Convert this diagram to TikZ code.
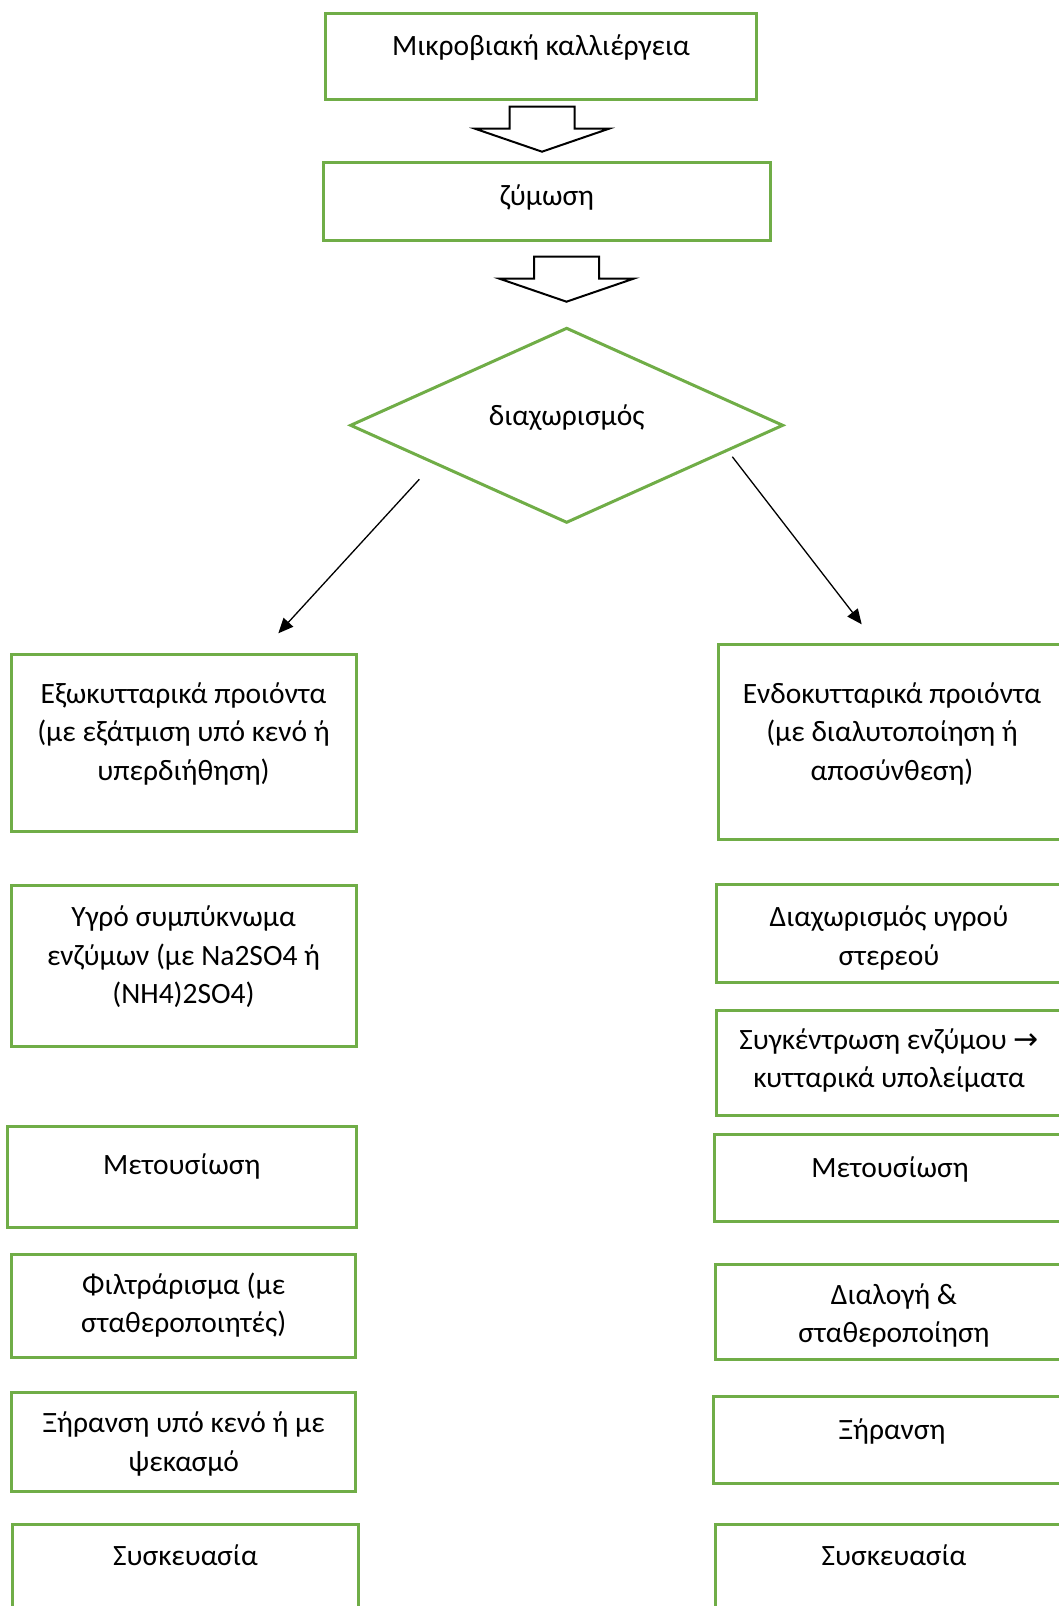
\documentclass[tikz,border=0pt]{standalone}
\usepackage{fontspec}
\setmainfont{Carlito}
\newfontfamily\arrowfont{DejaVu Sans}
\usetikzlibrary{shapes.geometric}
\usetikzlibrary{arrows.meta}
\usetikzlibrary{calc}
\definecolor{boxgreen}{HTML}{70AD47}
\tikzset{
	boxstyle/.style={rectangle, draw=boxgreen, line width=1.5pt, fill=white, anchor=north,
		align=center, inner sep=0pt, outer sep=0pt, font=\fontsize{14.75}{19.3}\selectfont},
	diamondstyle/.style={diamond, draw=boxgreen, line width=1.5pt, inner sep=0pt, outer sep=0pt,
		text height=5pt, text depth=5pt, font=\fontsize{14.75}{19.3}\selectfont},
	linkstyle/.style={line width=0.65pt, -{Triangle[length=7.5pt, width=6.5pt]}},
	blockarrow/.pic={
		\draw[line width=1pt, fill=white] (-32.5,0) -- (32.5,0) -- (32.5,22) -- (67,22)
			-- (0,45) -- (-67,22) -- (-32.5,22) -- cycle;
	}
}

\begin{document}
\begin{tikzpicture}[x=0.5pt, y=-0.5pt]
\useasboundingbox (0,0) rectangle (1059,1606);
\clip (0,0) rectangle (1059,1606);

% top of the chart
\node[boxstyle, minimum width=215.5pt, text height=20.85pt, text depth=22.15pt] (culture) at (541,13.3) {Μικροβιακή καλλιέργεια};
\node[boxstyle, minimum width=223.7pt, text height=21.15pt, text depth=17.85pt] (ferment) at (547,162.7) {ζύμωση};
\node[diamondstyle, minimum width=216pt, minimum height=97pt] (sep) at (566.7,425.3) {διαχωρισμός};

\pic at ($(culture.south)+(1,7.4)$) {blockarrow};
\pic at ($(ferment.south)+(19.5,16)$) {blockarrow};

% left column
\node[boxstyle, minimum width=172.5pt, text height=63.1pt, text depth=25.4pt] (ext) at (183.5,654) {Εξωκυτταρικά προιόντα\\(με εξάτμιση υπό κενό ή\\υπερδιήθηση)};
\node[boxstyle, minimum width=172.5pt, text height=59.45pt, text depth=21.4pt] (liq) at (183.5,885) {Υγρό συμπύκνωμα\\ενζύμων (με Na2SO4 ή\\(NH4)2SO4)};
\node[boxstyle, minimum width=174.8pt, text height=23.65pt, text depth=26.65pt] (denl) at (181.8,1126.7) {Μετουσίωση};
\node[boxstyle, minimum width=172.25pt, text height=39.3pt, text depth=12.2pt] (filt) at (183.7,1254.3) {Φιλτράρισμα (με\\σταθεροποιητές)};
\node[boxstyle, minimum width=172.25pt, text height=39.3pt, text depth=10pt] (dryl) at (183.7,1392.7) {Ξήρανση υπό κενό ή με\\ψεκασμό};
\node[boxstyle, minimum width=172.6pt, text height=20.5pt, text depth=34.5pt] (packl) at (185.4,1524) {Συσκευασία};

% right column
\node[boxstyle, minimum width=173.7pt, text height=68.25pt, text depth=29.25pt] (intr) at (892,644) {Ενδοκυτταρικά προιόντα\\(με διαλυτοποίηση ή\\αποσύνθεση)};
\node[boxstyle, minimum width=172.3pt, text height=40.5pt, text depth=8.5pt] (solid) at (889,884.3) {Διαχωρισμός υγρού\\στερεού};
\node[boxstyle, minimum width=172.3pt, text height=38.8pt, text depth=13.7pt] (conc) at (889,1010) {Συγκέντρωση ενζύμου {\arrowfont\fontsize{15}{19.3}\selectfont →}\\κυτταρικά υπολείματα};
\node[boxstyle, minimum width=175.4pt, text height=21.5pt, text depth=22pt] (denr) at (890,1134.3) {Μετουσίωση};
\node[boxstyle, minimum width=179pt, text height=39.15pt, text depth=8.35pt] (select) at (894,1264.3) {Διαλογή \&\\σταθεροποίηση};
\node[boxstyle, minimum width=178.5pt, text height=21.15pt, text depth=22.15pt] (dryr) at (892,1396.7) {Ξήρανση};
\node[boxstyle, minimum width=178.5pt, text height=20.35pt, text depth=34.65pt] (packr) at (894,1524.3) {Συσκευασία};

% split arrows
\coordinate (lstart) at (419.3,479.3);
\coordinate (lend) at (278.3,633.3);
\coordinate (rstart) at (732.3,456.7);
\coordinate (rend) at (861.7,624.3);
\draw[linkstyle] (lstart)--(lend);
\draw[linkstyle] (rstart)--(rend);
\end{tikzpicture}
\end{document}
